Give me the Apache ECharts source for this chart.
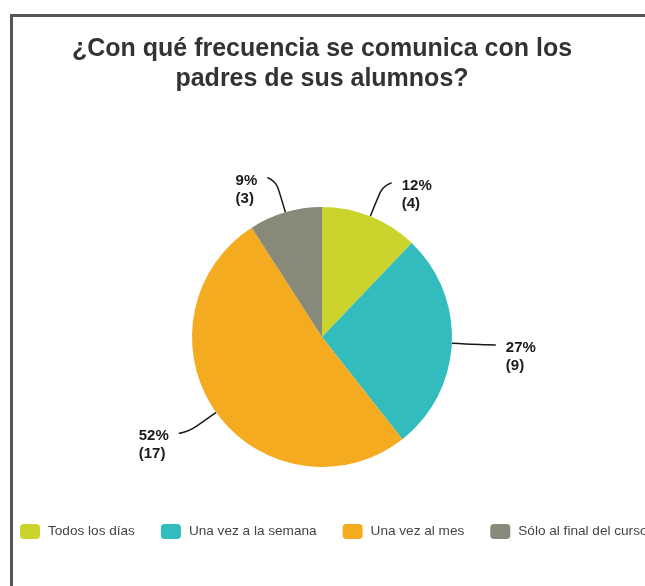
<!DOCTYPE html>
<html>
<head>
<meta charset="utf-8">
<script src="https://cdn.jsdelivr.net/npm/echarts@6/dist/echarts.min.js"></script>
<style>
html,body{margin:0;padding:0;background:#fff;overflow:hidden;}
#chart{position:absolute;left:0;top:0;width:645px;height:586px;}
#frame{position:absolute;left:10px;top:14px;width:800px;height:800px;border-top:3px solid #555;border-left:3px solid #555;pointer-events:none;}
</style>
</head>
<body>
<div id="chart"></div>
<div id="frame"></div>
<script>
const titleText = '¿Con qué frecuencia se comunica con los\npadres de sus alumnos?';
const categories = ['Todos los días', 'Una vez a la semana', 'Una vez al mes', 'Sólo al final del curso'];
const counts = [4, 9, 17, 3];
const colors = ['#cbd42c', '#33bcbd', '#f5ab1f', '#878a78'];

const FONT = 'Liberation Sans, Arial, sans-serif';
const chart = echarts.init(document.getElementById('chart'), null, {renderer: 'canvas'});
chart.setOption({
  backgroundColor: '#fff',
  animation: false,
  color: colors,
  title: {
    text: titleText,
    left: 322,
    top: 34,
    textAlign: 'center',
    padding: 0,
    textStyle: {fontFamily: FONT, fontSize: 25, fontWeight: 'bold', color: '#333', lineHeight: 30}
  },
  legend: {
    left: 20,
    top: 524,
    width: 1200,
    orient: 'horizontal',
    icon: 'roundRect',
    itemWidth: 20,
    itemHeight: 15,
    itemGap: 26,
    padding: 0,
    textStyle: {fontFamily: FONT, fontSize: 13.6, color: '#444', padding: [0, 0, 0, 3]},
    data: categories
  },
  series: [{
    type: 'pie',
    center: [322, 337],
    radius: 130,
    startAngle: 90,
    clockwise: true,
    data: categories.map((c, i) => ({name: c, value: counts[i]})),
    label: {
      show: true,
      position: 'outside',
      formatter: p => '{sp| }\n{t|' + Math.round(p.percent) + '%}\n{t|(' + p.value + ')}',
      distanceToLabelLine: 10,
      rich: {
        sp: {fontSize: 10, lineHeight: 24},
        t: {fontFamily: FONT, fontSize: 15, fontWeight: 'bold', color: '#1a1a1a', lineHeight: 18, align: 'left'}
      }
    },
    labelLine: {
      show: true,
      length: 36,
      length2: 8,
      smooth: 0.8,
      lineStyle: {color: '#1a1a1a', width: 1.5}
    },
    emphasis: {disabled: true}
  }]
});
</script>
</body>
</html>
